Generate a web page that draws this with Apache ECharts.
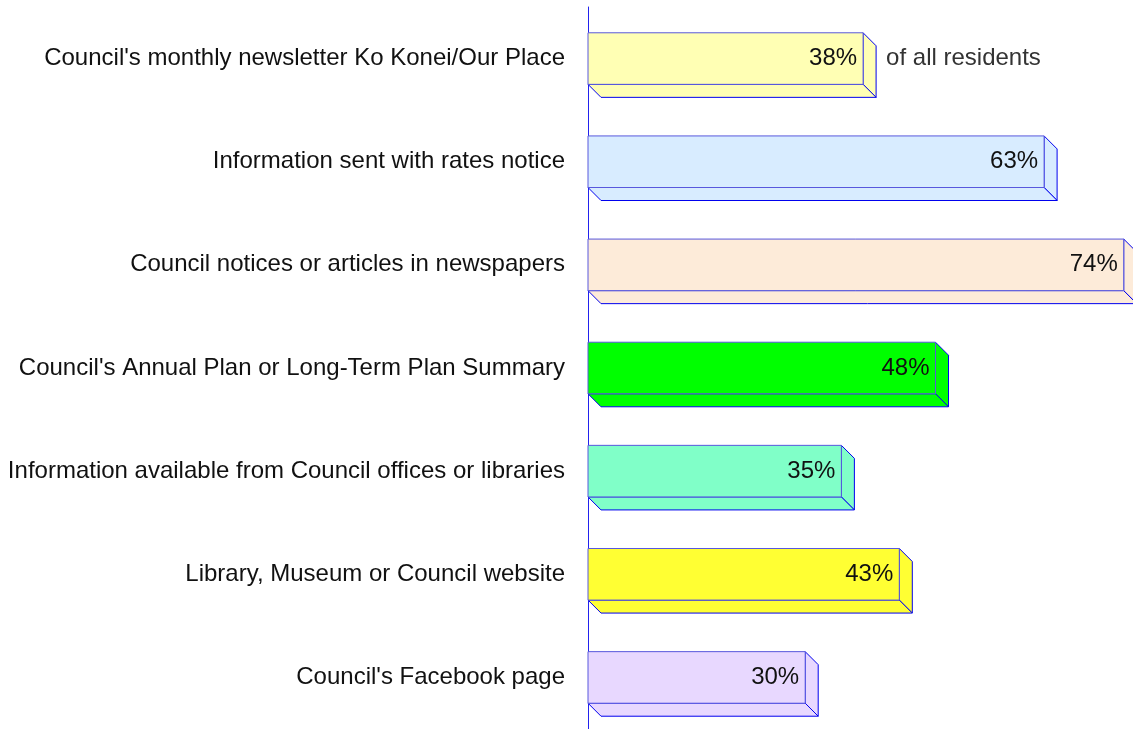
<!DOCTYPE html>
<html>
<head>
<meta charset="utf-8">
<script src="https://cdn.jsdelivr.net/npm/echarts@6/dist/echarts.min.js"></script>
<style>
  html, body { margin: 0; padding: 0; background: #fff; }
  #chart { width: 1133px; height: 729px; }
</style>
</head>
<body>
<div id="chart"></div>
<script>
/* 3D-style horizontal bars: share of residents per information source */
const categories = [
  "Council's monthly newsletter Ko Konei/Our Place",
  "Information sent with rates notice",
  "Council notices or articles in newspapers",
  "Council's Annual Plan or Long-Term Plan Summary",
  "Information available from Council offices or libraries",
  "Library, Museum or Council website",
  "Council's Facebook page"
];
const values = [38, 63, 74, 48, 35, 43, 30];
const barColors = ["#FFFFB4", "#D8ECFF", "#FDEBD9", "#00FF00", "#80FFC8", "#FFFF33", "#E8D8FF"];
const note = "of all residents";

const chart = echarts.init(document.getElementById("chart"));
const FONT = "'Liberation Sans', Arial, Helvetica, sans-serif";
const DEPTH = 13;

function renderBar(params, api) {
  const idx = api.value(1);
  const end = api.coord([api.value(0), idx]);
  const start = api.coord([0, idx]);
  const band = api.size([0, 1])[1];
  const h = band * 0.5;
  const x0 = start[0], x1 = end[0];
  const top = end[1] - h / 2, bot = end[1] + h / 2;
  const fill = barColors[params.dataIndex];
  const edge = { stroke: "#0000EE", lineWidth: 1 };
  const children = [
    {
      type: "polygon",
      shape: { points: [[x1, top], [x1 + DEPTH, top + DEPTH], [x1 + DEPTH, bot + DEPTH], [x1, bot]] },
      style: Object.assign({ fill: fill }, edge)
    },
    {
      type: "polygon",
      shape: { points: [[x0, bot], [x0 + DEPTH, bot + DEPTH], [x1 + DEPTH, bot + DEPTH], [x1, bot]] },
      style: Object.assign({ fill: fill }, edge)
    },
    {
      type: "rect",
      shape: { x: x0, y: top, width: x1 - x0, height: h },
      style: { fill: fill, stroke: "#5858DD", lineWidth: 1 }
    },
    {
      type: "text",
      style: {
        text: api.value(0) + "%",
        x: x1 - 6, y: end[1],
        align: "right", verticalAlign: "middle",
        font: "24px " + FONT, fill: "#111"
      }
    }
  ];
  if (params.dataIndex === 0) {
    children.push({
      type: "text",
      style: {
        text: note,
        x: x1 + DEPTH + 10, y: end[1],
        align: "left", verticalAlign: "middle",
        font: "24px " + FONT, fill: "#333"
      }
    });
  }
  return { type: "group", children: children };
}

chart.setOption({
  animation: false,
  // one percent is about 7.24 px; the axis runs past the right edge
  grid: { left: 588, top: 7, right: 0, height: 728, containLabel: false },
  xAxis: {
    type: "value", min: 0, max: 75.28,
    show: false
  },
  yAxis: {
    type: "category",
    data: categories,
    inverse: true,
    axisLine: { show: true, lineStyle: { color: "#2222EE", width: 1 } },
    axisTick: { show: false },
    axisLabel: { margin: 23, fontSize: 24, color: "#111", fontFamily: FONT }
  },
  series: [{
    type: "custom",
    renderItem: renderBar,
    encode: { x: 0, y: 1 },
    clip: false,
    data: values.map((v, i) => [v, i])
  }]
});
</script>
</body>
</html>
